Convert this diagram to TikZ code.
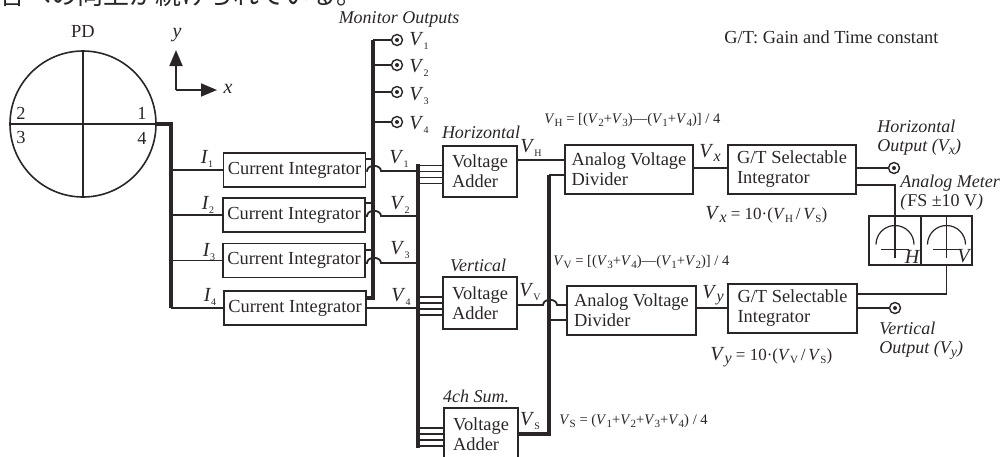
\documentclass[tikz,border=0pt]{standalone}
\usepackage{fontspec}
\setmainfont{Liberation Serif}
\newfontfamily\jpfont{Noto Sans CJK JP}
\usetikzlibrary{arrows.meta,calc}
\definecolor{ink}{HTML}{2A2627}
\newcommand{\Vlab}[1]{\textit{V}\raisebox{-.5ex}{\fontsize{5}{5}\selectfont #1}}
\newcommand{\Vfor}[1]{\textit{V}\raisebox{-.4ex}{\fontsize{5.5}{5.5}\selectfont #1}}
\newcommand{\Vbig}{\textit{V}\raisebox{-.35ex}{\fontsize{8}{8}\selectfont\textit{x}}}
\newcommand{\Vbiy}{\textit{V}\raisebox{-.35ex}{\fontsize{8}{8}\selectfont\textit{y}}}
\newcommand{\Vout}[1]{\textit{V}\raisebox{-.35ex}{\fontsize{7}{7}\selectfont\textit{#1}}}
\tikzset{
  box/.style={draw=ink, line width=.9pt, inner sep=0pt, align=left},
  wire/.style={draw=ink, line width=.9pt},
  bus/.style={draw=ink, line width=2pt},
  jack/.style={circle, draw=ink, inner sep=0pt, minimum size=5.5pt, line width=.7pt,
    path picture={\fill[ink] (path picture bounding box.center) circle (1pt);}},
  lab/.style={inner sep=0pt, text=ink},
  ital/.style={lab, font=\fontsize{9}{9.5}\selectfont\itshape, align=left},
  vlab/.style={lab, font=\fontsize{10}{10}\selectfont},
  form/.style={lab, anchor=west, font=\fontsize{7.3}{8}\selectfont},
  needle/.style={draw=ink, line width=.6pt}
}
\begin{document}
\begin{tikzpicture}[x=.5pt, y=-.5pt, font=\fontsize{9.2}{10}\selectfont, text=ink]
\clip (0,0) rectangle (1000,456);

\node[lab, anchor=base west, font=\fontsize{13}{13.5}\jpfont] (topline) at (-1,4) {合への向上が続けられている。};

% photodiode
\node[circle, draw=ink, line width=.8pt, minimum size=73pt, inner sep=0pt] (pd) at (83,124) {};
\draw[wire] (pd.north) -- (pd.south);
\draw[wire] (pd.west) -- (pd.east);
\node[lab] (pdname) at (83,31) {PD};
\node[lab] (q1) at (142,113) {1};
\node[lab] (q2) at (21,113) {2};
\node[lab] (q3) at (21,137) {3};
\node[lab] (q4) at (142,138) {4};

% axes
\coordinate (origin) at (176,90);
\node[lab, font=\fontsize{10}{10}\selectfont\itshape] (ylab) at (177,35) {y};
\node[lab, font=\fontsize{10}{10}\selectfont\itshape] (xlab) at (228,89) {x};
\draw[wire, -{Triangle[length=8pt,width=6.5pt]}] (origin) -- (origin |- 0,50);
\draw[wire, -{Triangle[length=8pt,width=6.5pt]}] (origin) -- (217,90);

% current integrators
\node[box, minimum width=71pt, minimum height=17pt] (ci1) at (294.5,170) {Current Integrator};
\node[box, minimum width=71pt, minimum height=17pt] (ci2) at (294,215) {Current Integrator};
\node[box, minimum width=71pt, minimum height=17pt] (ci3) at (294,260.5) {Current Integrator};
\node[box, minimum width=71pt, minimum height=17pt] (ci4) at (295,308) {Current Integrator};

\coordinate (ibus) at (171,124);
\coordinate (monbus) at (373,40);
\coordinate (sumbus) at (418,164);
\draw[bus] (pd.east) -- (ibus) -- (ibus |- ci4.west);
\foreach \i in {1,2,3,4}
  \draw[wire] (ibus |- ci\i.west) -- (ci\i.west);
\node[vlab] (i1) at (207,159) {\textit{I}\raisebox{-.5ex}{\fontsize{5}{5}\selectfont 1}};
\node[vlab] (i2) at (208,205) {\textit{I}\raisebox{-.5ex}{\fontsize{5}{5}\selectfont 2}};
\node[vlab] (i3) at (209,252) {\textit{I}\raisebox{-.5ex}{\fontsize{5}{5}\selectfont 3}};
\node[vlab] (i4) at (210,297) {\textit{I}\raisebox{-.5ex}{\fontsize{5}{5}\selectfont 4}};

% monitor outputs
\node[ital] (monitor) at (399,19) {Monitor Outputs};
\draw[bus] (monbus) -- (monbus |- 0,298) -- (ci4.east |- 0,298);
\foreach \i/\y/\ly in {1/40/41,2/65/68,3/92/96,4/122/125} {
  \node[jack] (jack\i) at (397,\y) {};
  \node[vlab] (mv\i) at (419,\ly) {\Vlab{\i}};
  \draw[wire] (monbus |- jack\i) -- (jack\i);
}

% hops over the monitor bus
\foreach \i/\s/\y in {1/159/171,2/203/216,3/250/263} {
  \draw[wire] (ci\i.east |- 0,\s) -- (monbus |- 0,\s);
  \coordinate (hop\i) at (367,\y);
  \draw[wire] (ci\i.east |- hop\i) -- (hop\i) arc[start angle=180, end angle=0, x radius=3.5pt, y radius=2.6pt] -- (sumbus |- hop\i);
}
\draw[wire] (ci4.east) -- (sumbus |- ci4.east);
\node[vlab] (v1) at (399,159) {\Vlab{1}};
\node[vlab] (v2) at (400,205) {\Vlab{2}};
\node[vlab] (v3) at (400,250) {\Vlab{3}};
\node[vlab] (v4) at (401,297) {\Vlab{4}};

% voltage adders
\node[box, minimum width=37pt, minimum height=25.5pt] (hadd) at (480,171.5) {Voltage\\Adder};
\node[box, minimum width=37pt, minimum height=26pt] (vadd) at (480,303) {Voltage\\Adder};
\node[box, minimum width=37pt, minimum height=26pt] (sadd) at (481,434) {Voltage\\Adder};
\node[ital] (hname) at (481,132) {Horizontal};
\node[ital] (vname) at (478,265) {Vertical};
\node[ital] (sname) at (476,396) {4ch Sum.};
\draw[bus] (sumbus) -- (sumbus |- 0,448);
\foreach \a in {hadd,vadd,sadd}
  \foreach \d in {-6,0,6,12} {
    \coordinate (p) at ($(\a.west)+(0,\d)$);
    \draw[wire] (sumbus |- p) -- (p);
  }

% dividers and integrators
\node[box, minimum width=64pt, minimum height=24.5pt] (hdiv) at (629,169.5) {Analog Voltage\\Divider};
\node[box, minimum width=64.5pt, minimum height=24.5pt] (vdiv) at (631.5,310.5) {Analog Voltage\\Divider};
\node[box, minimum width=64pt, minimum height=24.5pt] (hgt) at (792,169.5) {G/T Selectable\\Integrator};
\node[box, minimum width=64.5pt, minimum height=24.5pt] (vgt) at (792.5,308.5) {G/T Selectable\\Integrator};

\coordinate (divbus) at (549,175);
\coordinate (vin) at (543,305);
\draw[wire] (hadd.east |- 0,160) -- (hdiv.west |- 0,160);
\draw[bus] (sadd.east) -- (divbus |- sadd.east) -- (divbus);
\draw[wire] (divbus) -- (hdiv.west |- divbus);
\draw[wire] (vadd.east |- vin) -- (vin) arc[start angle=180, end angle=0, x radius=3.5pt, y radius=2.6pt] -- (vdiv.west |- vin);
\draw[wire] (divbus |- 0,320) -- (vdiv.west |- 0,320);
\node[vlab] (vh) at (531,148) {\Vlab{H}};
\node[vlab] (vv) at (530,292) {\Vlab{V}};
\node[vlab] (vs) at (530,421) {\Vlab{S}};
\node[vlab] (vx) at (710,153) {\Vbig};
\node[vlab] (vy) at (713,295) {\Vbiy};

\coordinate (hout) at (710,168);
\coordinate (vout) at (710,308);
\draw[wire] (hout -| hdiv.east) -- (hout -| hgt.west);
\draw[wire] (vout -| vdiv.east) -- (vout -| vgt.west);

% outputs
\node[jack] (hjack) at (894,168) {};
\node[jack] (vjack) at (895,308) {};
\draw[wire] (hjack -| hgt.east) -- (hjack);
\draw[wire] (vjack -| vgt.east) -- (vjack);

% meter
\node[box, minimum width=26pt, minimum height=24.5pt] (meterh) at (895,240.5) {};
\node[box, minimum width=25.5pt, minimum height=24.5pt] (meterv) at (946.5,240.5) {};
\foreach \m/\t in {meterh/H,meterv/V} {
  \draw[needle] ($(\m.center)+(-19,4)$) arc[start angle=180, end angle=0, x radius=9.5pt, y radius=9.5pt];
  \draw[needle] (\m.north) -- ($(\m.center)+(0,17)$);
  \draw[needle] ($(\m.center)+(-14,9)$) -- ($(\m.center)+(14,9)$);
  \node[lab, font=\fontsize{10}{10}\selectfont\itshape] (name\t) at ($(\m.center)+(17,16)$) {\t};
}
\draw[wire] (hgt.east |- 0,185) -- (meterh.north |- 0,185) -- (meterh.north);
\draw[wire] (vgt.east |- 0,294) -- (meterv.south |- 0,294) -- (meterv.south);

% formulas and notes
\node[form] (fh) at (544,120) {\Vfor{H} = [(\Vfor{2}+\Vfor{3})—(\Vfor{1}+\Vfor{4})] / 4};
\node[form] (fv) at (553,262) {\Vfor{V} = [(\Vfor{3}+\Vfor{4})—(\Vfor{1}+\Vfor{2})] / 4};
\node[form] (fs) at (559,421) {\Vfor{S} = (\Vfor{1}+\Vfor{2}+\Vfor{3}+\Vfor{4}) / 4};
\node[form, font=\fontsize{8.5}{9}\selectfont] (fx) at (705,215) {{\fontsize{10}{10}\selectfont\Vbig} = 10\textperiodcentered(\Vfor{H}\,/\,\Vfor{S})};
\node[form, font=\fontsize{8.5}{9}\selectfont] (fy) at (710,357) {{\fontsize{10}{10}\selectfont\Vbiy} = 10\textperiodcentered(\Vfor{V}\,/\,\Vfor{S})};
\node[lab, anchor=west] (gtnote) at (724,37) {G/T: Gain and Time constant};
\node[ital, anchor=west] (honame) at (877,137.5) {Horizontal\\Output (\Vout{x})};
\node[ital, anchor=west] (voname) at (879,340.5) {Vertical\\Output (\Vout{y})};
\node[ital, anchor=west] (mname) at (900,192.5) {Analog Meter\\(\textup{FS ±10 V})};
\end{tikzpicture}
\end{document}
